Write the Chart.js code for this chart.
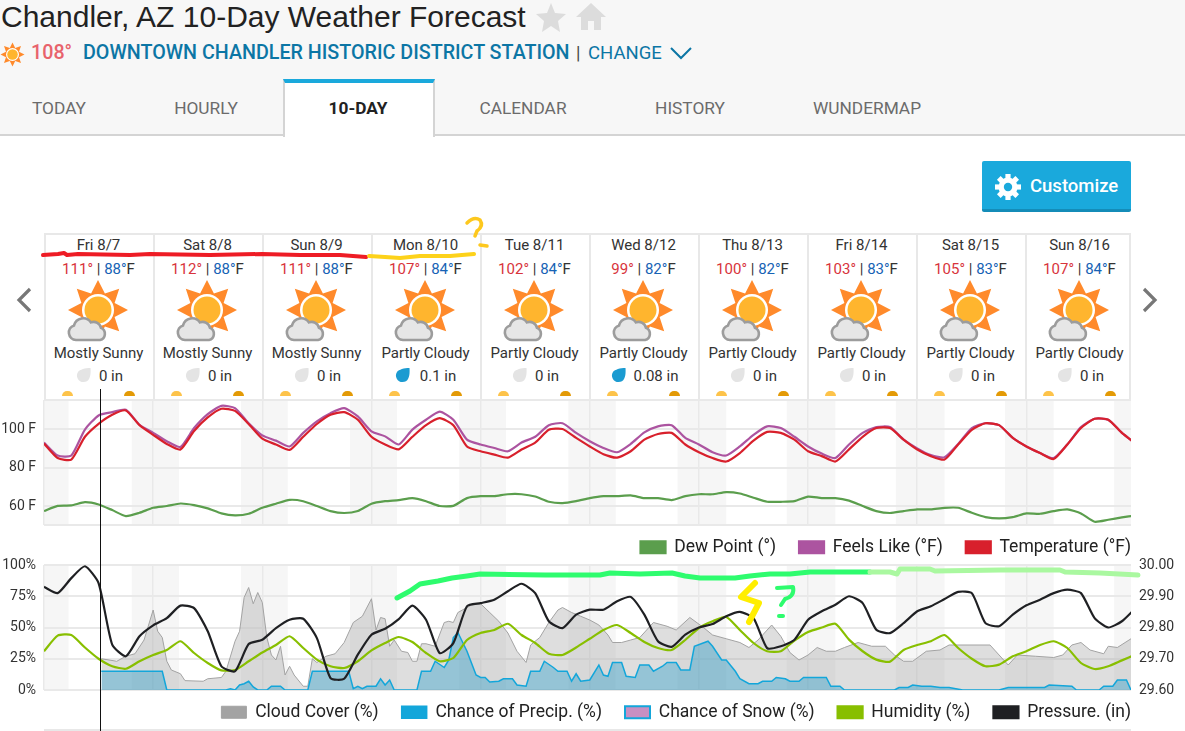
<!DOCTYPE html>
<html>
<head>
<meta charset="utf-8">
<title>Chandler, AZ 10-Day Weather Forecast</title>
<script src="https://cdn.jsdelivr.net/npm/chart.js@4"></script>
<style>
  html, body { margin: 0; padding: 0; width: 1185px; height: 731px; overflow: hidden; background: #fff; font-family: Roboto, sans-serif; color: #222; }
  .abs { position: absolute; white-space: nowrap; }
  #headerBg { left: 0; top: 0; width: 1185px; height: 134px; background: #f7f7f7; border-bottom: 2px solid #d4d4d4; }
  #title { left: 1px; top: -2px; font: 30px "Liberation Sans", Arial, sans-serif; color: #222; line-height: 38px; }
  #temp { left: 31px; top: 41px; font-size: 19.7px; font-weight: 500; color: #e8636c; line-height: 24px; }
  #station { left: 83px; top: 41px; font-size: 19.7px; font-weight: 500; color: #0c76a5; line-height: 24px; }
  #sep { left: 576px; top: 41px; font-size: 18px; color: #444; line-height: 24px; }
  #change { left: 588px; top: 41px; font-size: 18.5px; color: #0c76a5; line-height: 24px; }
  .tab { top: 97px; font-size: 17.3px; color: #6b6b6b; line-height: 22px; transform: translateX(-50%); }
  #activeTab { left: 283px; top: 79px; width: 148px; height: 54px; background: #fff; border-top: 4px solid #1aa9dc; border-left: 2px solid #d4d4d4; border-right: 2px solid #d4d4d4; }
  #customize { left: 982px; top: 161px; width: 149px; height: 48px; background: #1aa9dc; border-bottom: 3px solid #148cb8; border-radius: 2px; color: #fff; font-size: 18.5px; font-weight: 500; line-height: 50px; }
  #customize span { position: absolute; left: 48px; }
  .day { position: absolute; top: 233px; width: 109px; height: 167px; box-sizing: border-box; border-left: 2px solid #e8e8e8; border-top: 2px solid #e8e8e8; text-align: center; font-size: 15px; color: #333; }
  .day .line { position: absolute; left: 0; width: 105px; }
  .hi { color: #d8343c; }
  .lo { color: #1763b5; }
  canvas { position: absolute; left: 0; }
  #chartWrapTop { position: absolute; left: 0; top: 395px; width: 1185px; height: 170px; }
  #chartWrapBot { position: absolute; left: 0; top: 555px; width: 1185px; height: 175px; }
  #nowLine { left: 100px; top: 389px; width: 1px; height: 342px; background: #111; z-index: 4; }
  #nextTop { left: 44px; top: 729px; width: 1087px; height: 2px; background: #e8e8e8; }
  svg.overlay { position: absolute; left: 0; top: 0; z-index: 5; pointer-events: none; }
</style>
</head>
<body>
<div class="abs" id="headerBg"></div>
<div class="abs" id="title">Chandler, AZ 10-Day Weather Forecast</div>
<svg class="abs" style="left:535px;top:1px" width="72" height="34" viewBox="0 0 72 34">
  <polygon fill="#dcdcdc" points="16,2 20,12 31,13 23,20 25,31 16,25 7,31 9,20 1,13 12,12"/>
  <path fill="#dcdcdc" d="M56 2 L71 16 L66 16 L66 29 L59 29 L59 20 L53 20 L53 29 L46 29 L46 16 L41 16 Z"/>
</svg>
<svg class="abs" id="tinySun" style="left:0;top:42px" width="25" height="25" viewBox="-12.5 -12.5 25 25"></svg>
<div class="abs" id="temp">108°</div>
<div class="abs" id="station">DOWNTOWN CHANDLER HISTORIC DISTRICT STATION</div>
<div class="abs" id="sep">|</div>
<div class="abs" id="change">CHANGE</div>
<svg class="abs" style="left:669px;top:46px" width="24" height="14"><path d="M2 2 L12 12 L22 2" fill="none" stroke="#0c76a5" stroke-width="2"/></svg>
<div class="abs" id="activeTab"></div>
<div id="tabs"></div>
<div class="abs" id="customize">
  <svg class="abs" style="left:12px;top:12px" width="28" height="28" viewBox="-14 -14 28 28">
    <g fill="#fff"><circle r="9.5"/><g id="gearTeeth"></g></g><circle r="4.2" fill="#1aa9dc"/>
  </svg>
  <span>Customize</span>
</div>
<svg class="abs" style="left:14px;top:286px" width="20" height="30"><path d="M16 3 L5 14 L16 25" fill="none" stroke="#777" stroke-width="3.2"/></svg>
<svg class="abs" style="left:1140px;top:286px" width="20" height="30"><path d="M4 3 L15 14 L4 25" fill="none" stroke="#777" stroke-width="3.2"/></svg>
<div id="days"></div>
<div id="chartWrapTop"><canvas id="chartTemp"></canvas></div>
<div id="chartWrapBot"><canvas id="chartAtmos"></canvas></div>
<div class="abs" id="nowLine"></div>
<div class="abs" id="nextTop"></div>
<svg class="overlay" width="1185" height="731" fill="none" stroke-linecap="round" stroke-linejoin="round">
  <path stroke="#ee1c25" stroke-width="4" d="M43 255 L58 254 L64 253 L67 255 L78 254 L130 255 L150 254 L210 255 L262 254 L300 255 L340 255 L366 257"/>
  <path stroke="#fdd21a" stroke-width="4" d="M369 256 L385 257 L400 258 L420 256 L450 256 L474 254"/>
  <path stroke="#fdc81e" stroke-width="3.5" d="M467 223 Q474 216 480 220 Q484 226 477 231 L475 236"/>
  <path stroke="#fdc81e" stroke-width="3.5" d="M480 245 L487 246"/>
  <path stroke="#2efc6e" stroke-width="5" d="M397 598 L410 591 L420 584 L438 581 L452 578 L467 576 L480 574 L545 575 L600 575 L610 573 L640 574 L672 573 L685 576 L700 578 L735 578 L750 576 L770 574 L790 574 L810 572 L870 572"/>
  <path stroke="#aaf8a0" stroke-width="5" d="M870 572 L890 572 L897 574 L900 569 L930 569 L935 571 L1000 570 L1060 570 L1065 572 L1100 573 L1138 575"/>
  <path stroke="#ffee00" stroke-width="6" d="M755 583 L741 597 L759 603 L749 622"/>
  <path stroke="#2efc6e" stroke-width="4" d="M777 588 L793 587 Q795 596 785 599 L781 605"/>
  <path stroke="#2efc6e" stroke-width="4" d="M779 616 L783 616"/>
</svg>
<script>
// day strip
const dayLabels = ['Fri 8/7', 'Sat 8/8', 'Sun 8/9', 'Mon 8/10', 'Tue 8/11', 'Wed 8/12', 'Thu 8/13', 'Fri 8/14', 'Sat 8/15', 'Sun 8/16'];
const dayHighs = [111, 112, 111, 107, 102, 99, 100, 103, 105, 107];
const dayLows = [88, 88, 88, 84, 84, 82, 82, 83, 83, 84];
const dayConditions = ['Mostly Sunny', 'Mostly Sunny', 'Mostly Sunny', 'Partly Cloudy', 'Partly Cloudy', 'Partly Cloudy', 'Partly Cloudy', 'Partly Cloudy', 'Partly Cloudy', 'Partly Cloudy'];
const dayRain = ['0', '0', '0', '0.1', '0', '0.08', '0', '0', '0', '0'];
const tabNames = ['TODAY', 'HOURLY', '10-DAY', 'CALENDAR', 'HISTORY', 'WUNDERMAP'];
const tabCenters = [59, 206, 358, 523, 690, 867];

// temperature chart, one reading every 3 hours from midnight Fri
const dewPoint = [57.6,60.3,60.5,62.2,61,58.1,55,56.7,59.3,60.2,61.5,60.7,59,56.4,55.4,56.2,59.3,61.4,63.4,62.7,60.2,57.6,56.6,57.6,61.4,62.7,
  63.3,64.3,62.7,60.2,60.3,64.3,65.3,65.3,66.3,66.3,65.1,62.4,61.7,62.7,64.3,65.3,65.3,65.7,64.3,64.3,63.3,65.3,66.3,66.3,67.4,66.7,64.5,62.4,62.4,
  62.7,65.1,64.3,64.3,63,60.2,57.6,56.6,57.6,58.5,58.5,59.3,59.3,56.7,54.5,53.8,54.5,56.4,56.2,57.6,58.5,56.4,52.1,53.1,54.3,55.4];
const feelsLike = [93,86.3,86.3,99.7,107,108.7,110,102.2,98,93.7,90.7,100.5,107.7,112,110.8,103,96.7,94,91,98,104,108.2,110.8,106.5,98.8,96.2,
  92,99.7,104.8,109,104.8,94.5,92,90.2,88.5,93,96,102,103,98,93.7,90.2,88,92.3,98.3,101.4,102,95.4,92,88,86.3,91,97,101.4,100.5,
  96,91,87.3,85,92,98,101,101,94.5,90,86.5,85.4,92.3,100.5,103,102,95.4,91,87.6,85,92,101,105.3,104.8,98,92.5];
const temperature = [92.5,85,84.2,96,102.7,107.4,109.6,102,97,92.3,89.4,99,106,110.5,109.4,102.6,95,92,89.2,96,102.6,107.4,108.7,104.8,96,92,
  89.5,96,102,105.6,102,91,88.5,86.8,85.2,89.4,93,99.6,100,95.4,91,87,85.2,88.5,94.5,97.4,98,92,88,85,83.2,87.6,94,98.5,98,
  94.5,88.5,86,83.2,89.5,96,100.5,100.5,94.5,89.4,86,84.2,92,99.6,103,102,95.4,91,87.6,84.5,92,100.5,105.3,104.8,98,92.5];

// humidity and pressure, same 3 hour readings
const humidity = [31,43.5,44,34,25,19,17,23,28,32,39,29.6,21.6,15.7,16,23,30,36,43,33.6,24.3,19,17.6,23,31.7,37.6,
  42.4,38.4,29.6,23,25.6,40,45.6,48,53,44,37.6,29,28,34,41,48,52,45.6,38.4,33.6,32,40,49.6,55,58.4,48,37.6,31,31,
  39.5,46.4,50,53,40.3,31,24.3,22.7,32,36,39,44,33.6,25,19,20.3,27,31,36,39,33.6,21.6,16.8,19,23.7,28.3];
const pressure = [29.93,29.91,29.958,29.996,29.942,29.745,29.708,29.772,29.807,29.83,29.87,29.862,29.788,29.676,29.66,29.747,29.761,29.798,29.825,29.828,29.766,29.638,29.636,29.713,29.777,29.796,
  29.827,29.87,29.825,29.718,29.75,29.868,29.878,29.889,29.916,29.94,29.91,29.82,29.798,29.841,29.857,29.857,29.884,29.898,29.841,29.756,29.738,29.777,29.8,29.811,29.836,29.85,29.83,29.734,29.74,
  29.761,29.825,29.852,29.873,29.9,29.878,29.793,29.782,29.814,29.852,29.868,29.891,29.914,29.91,29.814,29.804,29.841,29.871,29.889,29.91,29.921,29.91,29.83,29.8,29.82,29.862];

// cloud cover and precip are spiky, so keep the hours they were read at
const cloudHours = [12.6,16,18,20,22,23,24,25,26,27,28,30,31,35,36,39,40,42,43,44,45,46,47,48,49,50,51,52,53,54,55,57,58,59,60,62,64,66,68,70,72,73,74,75,76,77,
  78.6,80,81,82,83,84,86,88,89,90,91,94,96,98,100,102,104,106,107,109,111,113,114,116,118,120,122,124,125,127,129,131,134,137,139,142,145,147,150,153,155,157,160,162,
  164,166,168,170,172,174,176,179,182,185,187,189,191,194,197,199,208,211,212,214,218,222,224,226,228,230,233,234,236,239,240];
const cloudCover = [25,23,27,29,40,52,64,47,42,23,16,13,7.5,7,9,10,15,39,47,74,82,69,78,70,42,28,24,35,12,19,12,3,3,25,22,27,29,38,54,59,73,48,58,57,35,40,
  31,30,23,23,37,37,35,54,55,54,62,68,69,62,55,45.6,31,22,36,42,54,64,66,62,59,56,52,44,38,38,40,42,54,51,48,58,50,44,41,38,34,40,52,43,
  30,24,28,34,31,31,34,38,35,35,28,23,23,31,32,36,36,24,20,28,27,26,28,36,38,32,29,35,34,41,42];
const precipHours = [12.6,26,27,40,41,42,43,44,45,46,47,49,50,52,53,58,59,67,68,69,70,71,73,74,75,76,77,
  82,83,85,86,88,89,90,91,93,95,96,97,98,100,101,103,104,106,107,109,110,112,113,115,116,117,118,120,122,123,124,125,127,128,130,131,133,134,136,137,139,140,142,143,146,147,149,150,152,153,155,157,158,160,161,
  163,164,166,167,172,173,175,176,187,188,190,191,193,195,197,199,202,210,212,214,215,220,221,226,227,232,233,235,236,238,239,240];
const precipChance = [15,15,0,0,1,0,4,5,7,2.4,0,0,3,3,0,0,15,15,1,3,1,3,3,9,4,8,0,
  0,15,15,23,18,24,42,46,31,12,10,10,6.4,7,9,9,4,3,15,15,23,18,15,15,7,13,7,8,20,12,11,22,22,11,10,20,20,15,19,22,22,16,16,35,39,35,24,24,15,9,5,5,7,7,10,
  9,7,7,10,10,3,3,0,0,2,2,4,3,3,2,2,0,0,2,2,2,2,4,3,0,0,3,3,8,8,0,0];
const snowChance = [];

const tempTicks = [60, 80, 100];
const percentTicks = [0, 25, 50, 75, 100];
const pressureTicks = [29.6, 29.7, 29.8, 29.9, 30];
const dayStarts = [0, 24, 48, 72, 96, 120, 144, 168, 192, 216];
const nightBands = [[0, 5.4], [19.3, 29.7], [43.3, 53.6], [67.3, 77.6], [91.3, 101.6], [115.3, 125.7], [139.3, 150], [163.3, 174], [187.3, 198], [211.3, 222], [235.3, 239]];

const C_GRID = '#e9e9e9';
const FONT = 'Roboto, sans-serif';

function pointsEvery3h(values) {
  return values.map(function (v, i) { return { x: i * 3, y: v }; });
}
function pointsAt(hours, values) {
  return values.map(function (v, i) { return { x: hours[i], y: v }; });
}

// header bits
document.getElementById('tabs').innerHTML = tabNames.map(function (t, i) {
  const extra = t === '10-DAY' ? 'font-weight:700;color:#222;' : '';
  return '<div class="abs tab" style="left:' + tabCenters[i] + 'px;' + extra + '">' + t + '</div>';
}).join('');

function starPoints(n, r1, r2) {
  const pts = [];
  for (let i = 0; i < n * 2; i++) {
    const a = -Math.PI / 2 + i * Math.PI / n;
    const r = i % 2 ? r2 : r1;
    pts.push((r * Math.cos(a)).toFixed(1) + ',' + (r * Math.sin(a)).toFixed(1));
  }
  return pts.join(' ');
}

document.getElementById('tinySun').innerHTML =
  '<polygon fill="#ff8a2b" points="' + starPoints(8, 12, 7) + '"/><circle r="6.5" fill="#fff"/><circle r="5.3" fill="#ffb52e"/>';

let teeth = '';
for (let i = 0; i < 8; i++) teeth += '<rect x="-2.6" y="-13" width="5.2" height="6" transform="rotate(' + (i * 45) + ')"/>';
document.getElementById('gearTeeth').innerHTML = teeth;

function weatherIcon() {
  return '<svg style="position:absolute;left:12px;top:44px" width="80" height="66" viewBox="-40 -31 80 66">' +
    '<polygon fill="#ff8a2b" points="' + starPoints(8, 30, 18) + '"/>' +
    '<circle r="16" fill="#fff"/><circle r="13.5" fill="#ffb52e"/>' +
    '<path d="M-22 30 a7.5 7.5 0 0 1 -2 -14.6 a9.5 9.5 0 0 1 17 -3 a7.5 7.5 0 0 1 10 5.5 a6.4 6.4 0 0 1 -1 12.1 Z" fill="#e6e6e6" stroke="#9c9c9c" stroke-width="2.6"/>' +
    '</svg>';
}

function dropLeft(rain) {
  if (rain === '0') return 30;
  return rain === '0.1' ? 22 : 20;
}

document.getElementById('days').innerHTML = dayLabels.map(function (d, i) {
  const rainy = dayRain[i] !== '0';
  return '<div class="day" style="left:' + (44 + i * 109) + 'px;' + (i === 9 ? 'width:106px;border-right:2px solid #e8e8e8;' : '') + '">' +
    '<div class="line" style="top:1px">' + d + '</div>' +
    '<div class="line" style="top:25px"><span class="hi">' + dayHighs[i] + '°</span> | <span class="lo">' + dayLows[i] + '°</span>F</div>' +
    weatherIcon() +
    '<div class="line" style="top:109px">' + dayConditions[i] + '</div>' +
    '<svg style="position:absolute;left:' + dropLeft(dayRain[i]) + 'px;top:132px" width="16" height="16" viewBox="0 0 16 16"><path d="M14.5 1 C15 8 14 15 7.5 15 A6.5 6.5 0 0 1 2 5 C4 2.5 9 1 14.5 1 Z" fill="' + (rainy ? '#1b9bd1' : '#e4e4e4') + '"/></svg>' +
    '<div class="line" style="top:132px;left:12.5px">' + dayRain[i] + ' in</div>' +
    '<div style="position:absolute;left:16px;top:156px;width:11px;height:5px;border-radius:6px 6px 0 0;background:#fdc34a"></div>' +
    '<div style="position:absolute;left:78px;top:156px;width:11px;height:5px;border-radius:6px 6px 0 0;background:#e39a06"></div>' +
    '</div>';
}).join('');

// grey night columns behind the lines, and the legend pulled to the plot's right edge and up
const nightPlugin = {
  id: 'nightBands',
  afterLayout(chart) {
    chart.legend.right = chart.chartArea.right + chart.legend.options.labels.padding;
    chart.legend.top -= 9.5;
  },
  beforeDraw(chart) {
    const { ctx, chartArea, scales } = chart;
    ctx.save();
    ctx.fillStyle = '#f6f6f6';
    nightBands.forEach(function (b) {
      const x0 = scales.x.getPixelForValue(b[0]);
      const x1 = scales.x.getPixelForValue(b[1]);
      ctx.fillRect(x0, chartArea.top, x1 - x0, chartArea.bottom - chartArea.top);
    });
    ctx.restore();
  }
};

function legendOptions() {
  return {
    position: 'bottom',
    align: 'end',
    maxHeight: 40,
    labels: {
      boxWidth: 25,
      boxHeight: 12,
      padding: 23,
      color: '#222',
      font: { family: FONT, size: 17.5 },
      sort: function (a, b) { return a.datasetIndex - b.datasetIndex; }
    }
  };
}

function xScale() {
  return {
    type: 'linear',
    min: 0,
    max: 239,
    afterBuildTicks: function (s) { s.ticks = dayStarts.map(function (v) { return { value: v }; }); },
    afterFit: function (s) { s.height = 0; },
    ticks: { display: false },
    border: { display: false },
    grid: { color: C_GRID, lineWidth: 1.5, drawTicks: false }
  };
}

// keep the plot edges where they are: no room reserved for half a tick label
function pinAxis(width) {
  return function (s) {
    s.width = width;
    s.paddingTop = 0;
    s.paddingBottom = 0;
  };
}

function lineSet(label, data, color, order, extra) {
  return Object.assign({
    label: label,
    data: data,
    borderColor: color,
    backgroundColor: color,
    borderWidth: 2.2,
    pointRadius: 0,
    tension: 0.2,
    fill: false,
    order: order
  }, extra || {});
}

Chart.defaults.animation = false;
Chart.defaults.responsive = false;
Chart.defaults.font.family = FONT;

const topCanvas = document.getElementById('chartTemp');
topCanvas.width = 1185; topCanvas.height = 170;
new Chart(topCanvas, {
  type: 'line',
  data: {
    datasets: [
      lineSet('Dew Point (°)', pointsEvery3h(dewPoint), '#5b9e4d', 3),
      lineSet('Feels Like (°F)', pointsEvery3h(feelsLike), '#ac54a0', 2),
      lineSet('Temperature (°F)', pointsEvery3h(temperature), '#d8202c', 1)
    ]
  },
  options: {
    devicePixelRatio: 1,
    layout: { autoPadding: false, padding: { top: 5, right: 54 } },
    plugins: { legend: legendOptions(), tooltip: { enabled: false } },
    scales: {
      x: xScale(),
      y: {
        min: 50.4,
        max: 115,
        afterFit: pinAxis(44),
        afterBuildTicks: function (s) { s.ticks = [50.4].concat(tempTicks, [115]).map(function (v) { return { value: v }; }); },
        ticks: {
          font: { family: FONT, size: 14 },
          color: '#333',
          padding: 8,
          callback: function (v) { return tempTicks.includes(v) ? v + ' F' : ''; }
        },
        border: { display: false },
        grid: { color: C_GRID, lineWidth: 2, drawTicks: false }
      }
    }
  },
  plugins: [nightPlugin]
});

const botCanvas = document.getElementById('chartAtmos');
botCanvas.width = 1185; botCanvas.height = 175;
new Chart(botCanvas, {
  type: 'line',
  data: {
    datasets: [
      lineSet('Cloud Cover (%)', pointsAt(cloudHours, cloudCover), '#a3a3a3', 5, {
        backgroundColor: '#a3a3a3', borderWidth: 1, tension: 0, fill: { target: 'origin', above: 'rgba(163,163,163,0.36)' }
      }),
      lineSet('Chance of Precip. (%)', pointsAt(precipHours, precipChance), '#13a6da', 4, {
        borderWidth: 1.5, tension: 0, fill: { target: 'origin', above: 'rgba(20,150,200,0.36)' }
      }),
      lineSet('Chance of Snow (%)', pointsEvery3h(snowChance), '#13a6da', 3, {
        backgroundColor: '#c98fc2', borderWidth: 2
      }),
      lineSet('Humidity (%)', pointsEvery3h(humidity), '#88bf00', 2),
      lineSet('Pressure. (in)', pointsEvery3h(pressure), '#1f2023', 1, { yAxisID: 'y2' })
    ]
  },
  options: {
    devicePixelRatio: 1,
    layout: { autoPadding: false, padding: { top: 10 } },
    plugins: { legend: legendOptions(), tooltip: { enabled: false } },
    scales: {
      x: xScale(),
      y: {
        min: 0,
        max: 100,
        afterFit: pinAxis(44),
        afterBuildTicks: function (s) { s.ticks = percentTicks.map(function (v) { return { value: v }; }); },
        ticks: { font: { family: FONT, size: 14 }, color: '#333', padding: 8, callback: function (v) { return v + '%'; } },
        border: { display: false },
        grid: { color: C_GRID, lineWidth: 2, drawTicks: false }
      },
      y2: {
        position: 'right',
        min: 29.6,
        max: 30,
        afterFit: pinAxis(54),
        afterBuildTicks: function (s) { s.ticks = pressureTicks.map(function (v) { return { value: v }; }); },
        ticks: { font: { family: FONT, size: 14 }, color: '#333', padding: 8, callback: function (v) { return v.toFixed(2); } },
        border: { display: false },
        grid: { drawOnChartArea: false, drawTicks: false }
      }
    }
  },
  plugins: [nightPlugin]
});
</script>
</body>
</html>
